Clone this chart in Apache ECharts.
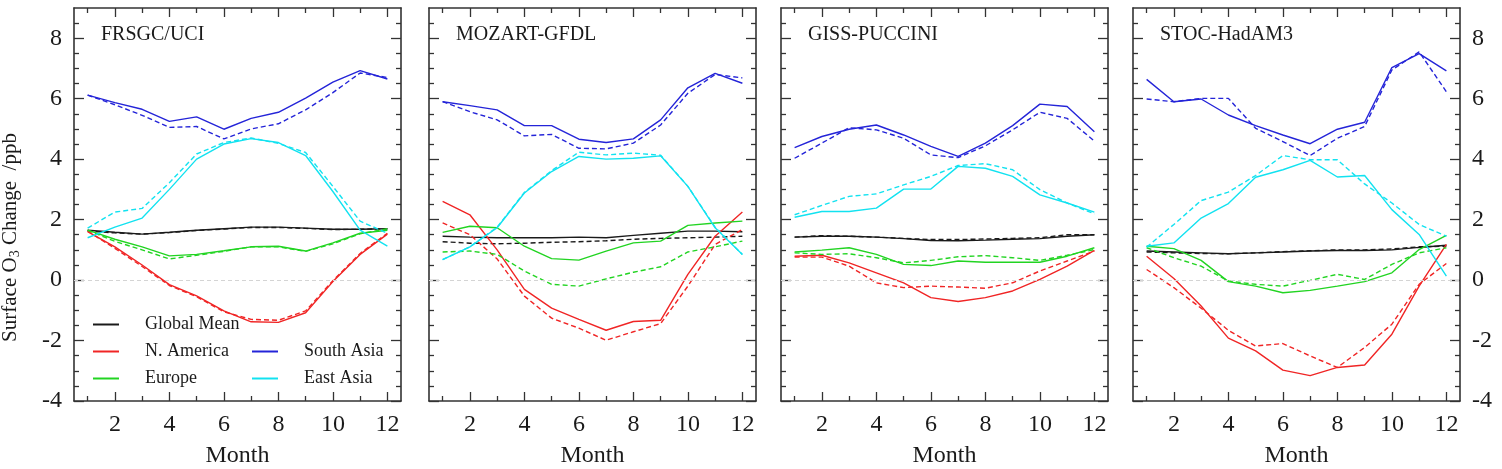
<!DOCTYPE html>
<html>
<head>
<meta charset="utf-8">
<script src="https://cdn.jsdelivr.net/npm/echarts@6/dist/echarts.min.js"></script>
<style>
  html, body { margin: 0; background: #fff; }
  #chart { width: 1502px; height: 469px; }
</style>
</head>
<body>
<div id="chart"></div>
<script>
// months and tick positions
const months = [1, 2, 3, 4, 5, 6, 7, 8, 9, 10, 11, 12];
const majorX = [2, 4, 6, 8, 10, 12];
const minorX = [1, 3, 5, 7, 9, 11];
const majorY = [-4, -2, 0, 2, 4, 6, 8];
const minorY = [-3.5, -3, -2.5, -1.5, -1, -0.5, 0.5, 1, 1.5, 2.5, 3, 3.5, 4.5, 5, 5.5, 6.5, 7, 7.5, 8.5];

const models = ['FRSGC/UCI', 'MOZART-GFDL', 'GISS-PUCCINI', 'STOC-HadAM3'];
const regions = ['Global Mean', 'N. America', 'Europe', 'South Asia', 'East Asia'];

// FRSGC/UCI (solid / dashed)
const frsgcGM  = [1.65, 1.58, 1.52, 1.58, 1.65, 1.7, 1.75, 1.75, 1.72, 1.68, 1.68, 1.7];
const frsgcGMd = [1.62, 1.56, 1.52, 1.57, 1.64, 1.69, 1.74, 1.74, 1.71, 1.67, 1.68, 1.7];
const frsgcNA  = [1.6, 1.1, 0.5, -0.15, -0.52, -1.02, -1.38, -1.4, -1.08, -0.05, 0.85, 1.52];
const frsgcNAd = [1.62, 1.05, 0.45, -0.18, -0.55, -1.05, -1.3, -1.33, -1.02, -0.02, 0.88, 1.55];
const frsgcEU  = [1.65, 1.35, 1.1, 0.8, 0.85, 0.97, 1.1, 1.12, 0.96, 1.23, 1.55, 1.65];
const frsgcEUd = [1.65, 1.28, 1.0, 0.7, 0.82, 0.95, 1.1, 1.1, 0.95, 1.2, 1.53, 1.7];
const frsgcSA  = [6.12, 5.87, 5.65, 5.25, 5.4, 4.99, 5.35, 5.55, 6.02, 6.55, 6.93, 6.65];
const frsgcSAd = [6.12, 5.8, 5.45, 5.05, 5.08, 4.67, 5.0, 5.17, 5.63, 6.2, 6.85, 6.7];
const frsgcEA  = [1.4, 1.75, 2.05, 3.0, 4.0, 4.5, 4.68, 4.55, 4.12, 2.93, 1.65, 1.12];
const frsgcEAd = [1.72, 2.25, 2.37, 3.22, 4.17, 4.55, 4.7, 4.52, 4.22, 3.1, 1.95, 1.55];

// MOZART-GFDL
const mozartGM  = [1.45, 1.42, 1.4, 1.4, 1.4, 1.42, 1.4, 1.48, 1.55, 1.62, 1.62, 1.6];
const mozartGMd = [1.27, 1.22, 1.2, 1.22, 1.25, 1.27, 1.3, 1.35, 1.38, 1.4, 1.42, 1.45];
const mozartNA  = [2.6, 2.16, 1.0, -0.31, -0.93, -1.3, -1.66, -1.37, -1.33, 0.19, 1.45, 2.25];
const mozartNAd = [1.89, 1.5, 0.7, -0.53, -1.26, -1.59, -1.99, -1.71, -1.44, -0.2, 1.18, 1.67];
const mozartEU  = [1.58, 1.78, 1.73, 1.12, 0.71, 0.66, 0.96, 1.23, 1.29, 1.81, 1.89, 1.95];
const mozartEUd = [0.93, 0.96, 0.85, 0.3, -0.14, -0.2, 0.04, 0.26, 0.44, 0.93, 1.1, 1.29];
const mozartSA  = [5.9, 5.77, 5.63, 5.11, 5.11, 4.66, 4.55, 4.67, 5.3, 6.36, 6.84, 6.51];
const mozartSAd = [5.9, 5.57, 5.3, 4.77, 4.82, 4.36, 4.34, 4.53, 5.13, 6.18, 6.8, 6.69];
const mozartEA  = [0.68, 1.1, 1.73, 2.88, 3.59, 4.09, 4.0, 4.03, 4.11, 3.1, 1.73, 0.85];
const mozartEAd = [0.68, 1.1, 1.75, 2.9, 3.62, 4.23, 4.14, 4.2, 4.13, 3.1, 1.75, 0.85];

// GISS-PUCCINI
const gissGM  = [1.42, 1.45, 1.45, 1.42, 1.37, 1.31, 1.3, 1.32, 1.35, 1.37, 1.45, 1.5];
const gissGMd = [1.42, 1.47, 1.45, 1.42, 1.38, 1.34, 1.34, 1.36, 1.38, 1.4, 1.5, 1.5];
const gissNA  = [0.79, 0.82, 0.57, 0.24, -0.09, -0.58, -0.71, -0.58, -0.36, 0.02, 0.46, 0.98];
const gissNAd = [0.76, 0.76, 0.46, -0.09, -0.25, -0.2, -0.23, -0.27, -0.09, 0.3, 0.63, 0.96];
const gissEU  = [0.93, 0.99, 1.07, 0.85, 0.52, 0.48, 0.63, 0.59, 0.59, 0.59, 0.79, 1.07];
const gissEUd = [0.9, 0.85, 0.87, 0.74, 0.57, 0.65, 0.77, 0.81, 0.74, 0.65, 0.82, 1.01];
const gissSA  = [4.38, 4.75, 4.99, 5.13, 4.8, 4.42, 4.09, 4.53, 5.11, 5.82, 5.74, 4.91];
const gissSAd = [4.03, 4.53, 5.04, 4.97, 4.69, 4.14, 4.05, 4.44, 4.97, 5.55, 5.35, 4.6];
const gissEA  = [2.08, 2.27, 2.27, 2.38, 3.01, 3.01, 3.76, 3.7, 3.43, 2.82, 2.55, 2.25];
const gissEAd = [2.16, 2.47, 2.77, 2.85, 3.15, 3.43, 3.79, 3.85, 3.65, 2.99, 2.55, 2.19];

// STOC-HadAM3
const stocGM  = [0.96, 0.93, 0.9, 0.87, 0.9, 0.93, 0.96, 0.98, 0.98, 1.0, 1.08, 1.15];
const stocGMd = [0.93, 0.9, 0.88, 0.87, 0.9, 0.94, 0.97, 1.0, 1.0, 1.03, 1.1, 1.12];
const stocNA  = [0.79, 0.05, -0.86, -1.92, -2.34, -2.98, -3.16, -2.89, -2.81, -1.79, -0.2, 1.18];
const stocNAd = [0.35, -0.25, -0.93, -1.66, -2.18, -2.1, -2.51, -2.89, -2.23, -1.46, -0.14, 0.55];
const stocEU  = [1.12, 1.04, 0.65, -0.05, -0.2, -0.42, -0.34, -0.2, -0.05, 0.24, 1.01, 1.48];
const stocEUd = [1.07, 0.74, 0.46, -0.03, -0.14, -0.2, -0.01, 0.19, 0.02, 0.52, 0.9, 1.07];
const stocSA  = [6.64, 5.9, 5.99, 5.46, 5.11, 4.8, 4.51, 4.99, 5.22, 7.03, 7.49, 6.92];
const stocSAd = [5.99, 5.9, 6.01, 6.01, 5.02, 4.58, 4.12, 4.69, 5.08, 6.95, 7.55, 6.23];
const stocEA  = [1.12, 1.23, 2.05, 2.53, 3.4, 3.65, 3.96, 3.41, 3.46, 2.33, 1.51, 0.13];
const stocEAd = [1.09, 1.84, 2.63, 2.91, 3.46, 4.12, 3.98, 3.98, 3.18, 2.55, 1.84, 1.45];

const panels = [
  { solid: [frsgcGM, frsgcNA, frsgcEU, frsgcSA, frsgcEA], dashed: [frsgcGMd, frsgcNAd, frsgcEUd, frsgcSAd, frsgcEAd] },
  { solid: [mozartGM, mozartNA, mozartEU, mozartSA, mozartEA], dashed: [mozartGMd, mozartNAd, mozartEUd, mozartSAd, mozartEAd] },
  { solid: [gissGM, gissNA, gissEU, gissSA, gissEA], dashed: [gissGMd, gissNAd, gissEUd, gissSAd, gissEAd] },
  { solid: [stocGM, stocNA, stocEU, stocSA, stocEA], dashed: [stocGMd, stocNAd, stocEUd, stocSAd, stocEAd] },
];

const colors = ['#1a1a1a', '#f02525', '#22d422', '#2424d8', '#12e2f0'];
const font = '"Liberation Serif", "Times New Roman", serif';
const textColor = '#1a1a1a';
const frame = '#333';
const gridLeft = [74, 429, 781, 1133];

const chart = echarts.init(document.getElementById('chart'));

const grids = [];
const xAxes = [];
const yAxes = [];
const series = [];

const line = { show: true, onZero: false, lineStyle: { color: frame, width: 1.6 } };
const noLine = { show: false, onZero: false };
const tick = (len, values) => ({ show: true, inside: true, length: len, customValues: values, lineStyle: { color: frame, width: 1.3 } });
const label = (values) => ({ show: true, customValues: values, margin: 12, fontSize: 24, fontFamily: font, color: textColor });

gridLeft.forEach((left, g) => {
  grids.push({ left, top: 8, width: 327, height: 393, containLabel: false, outerBoundsMode: 'none' });

  const xBase = { gridIndex: g, type: 'value', min: 0.5, max: 12.5, splitLine: { show: false } };
  xAxes.push({
    ...xBase, position: 'bottom', axisLine: line, axisTick: tick(9, majorX), axisLabel: label(majorX),
    name: 'Month', nameLocation: 'middle', nameGap: 43,
    nameTextStyle: { fontSize: 24, fontFamily: font, color: textColor },
  });
  xAxes.push({ ...xBase, position: 'bottom', axisLine: noLine, axisTick: tick(5, minorX), axisLabel: { show: false } });
  xAxes.push({ ...xBase, position: 'top', axisLine: line, axisTick: tick(9, majorX), axisLabel: { show: false } });
  xAxes.push({ ...xBase, position: 'top', axisLine: noLine, axisTick: tick(5, minorX), axisLabel: { show: false } });

  const yBase = { gridIndex: g, type: 'value', min: -4, max: 9, splitLine: { show: false } };
  const leftMajor = {
    ...yBase, position: 'left', axisLine: line, axisTick: tick(10, majorY),
    axisLabel: g === 0 ? label(majorY) : { show: false },
  };
  if (g === 0) {
    Object.assign(leftMajor, {
      name: 'Surface O{sub|3} Change  /ppb', nameLocation: 'middle', nameGap: 52,
      nameTextStyle: {
        fontSize: 21, fontFamily: font, color: textColor, padding: [0, 66, 0, 0],
        rich: { sub: { fontSize: 14, fontFamily: font, color: textColor, padding: [10, 0, 0, 0] } },
      },
    });
  }
  yAxes.push(leftMajor);
  yAxes.push({ ...yBase, position: 'left', axisLine: noLine, axisTick: tick(5, minorY), axisLabel: { show: false } });
  yAxes.push({
    ...yBase, position: 'right', axisLine: line, axisTick: tick(10, majorY),
    axisLabel: g === 3 ? label(majorY) : { show: false },
  });
  yAxes.push({ ...yBase, position: 'right', axisLine: noLine, axisTick: tick(5, minorY), axisLabel: { show: false } });

  regions.forEach((name, r) => {
    const s = {
      type: 'line', name, xAxisIndex: g * 4, yAxisIndex: g * 4,
      data: months.map((m, i) => [m, panels[g].solid[r][i]]),
      symbol: 'none', silent: true, animation: false,
      lineStyle: { color: colors[r], width: 1.4 }, itemStyle: { color: colors[r] },
    };
    if (r === 0) {
      s.markLine = {
        silent: true, symbol: ['none', 'none'], label: { show: false }, animation: false,
        lineStyle: { color: '#d4d4d4', type: [4, 3], width: 1 },
        data: [{ yAxis: 0 }],
      };
    }
    series.push(s);
    series.push({
      type: 'line', name: name + ' (dashed)', xAxisIndex: g * 4, yAxisIndex: g * 4,
      data: months.map((m, i) => [m, panels[g].dashed[r][i]]),
      symbol: 'none', silent: true, animation: false,
      lineStyle: { color: colors[r], width: 1.4, type: [5, 3] }, itemStyle: { color: colors[r] },
    });
  });
});

const legendBase = {
  orient: 'vertical', icon: 'rect', itemWidth: 26, itemHeight: 2, itemGap: 0, padding: 0,
  selectedMode: false,
  textStyle: { fontSize: 18, lineHeight: 27, fontFamily: font, color: textColor, padding: [0, 0, 0, 21] },
};

chart.setOption({
  backgroundColor: '#fff',
  animation: false,
  title: models.map((m, g) => ({
    text: m, left: gridLeft[g] + 27, top: 25, padding: 0,
    textStyle: { fontSize: 20, fontWeight: 'normal', fontFamily: font, color: textColor },
  })),
  legend: [
    { ...legendBase, data: ['Global Mean', 'N. America', 'Europe'], left: 93, top: 311 },
    { ...legendBase, data: ['South Asia', 'East Asia'], left: 252, top: 338 },
  ],
  grid: grids,
  xAxis: xAxes,
  yAxis: yAxes,
  series,
});
</script>
</body>
</html>
